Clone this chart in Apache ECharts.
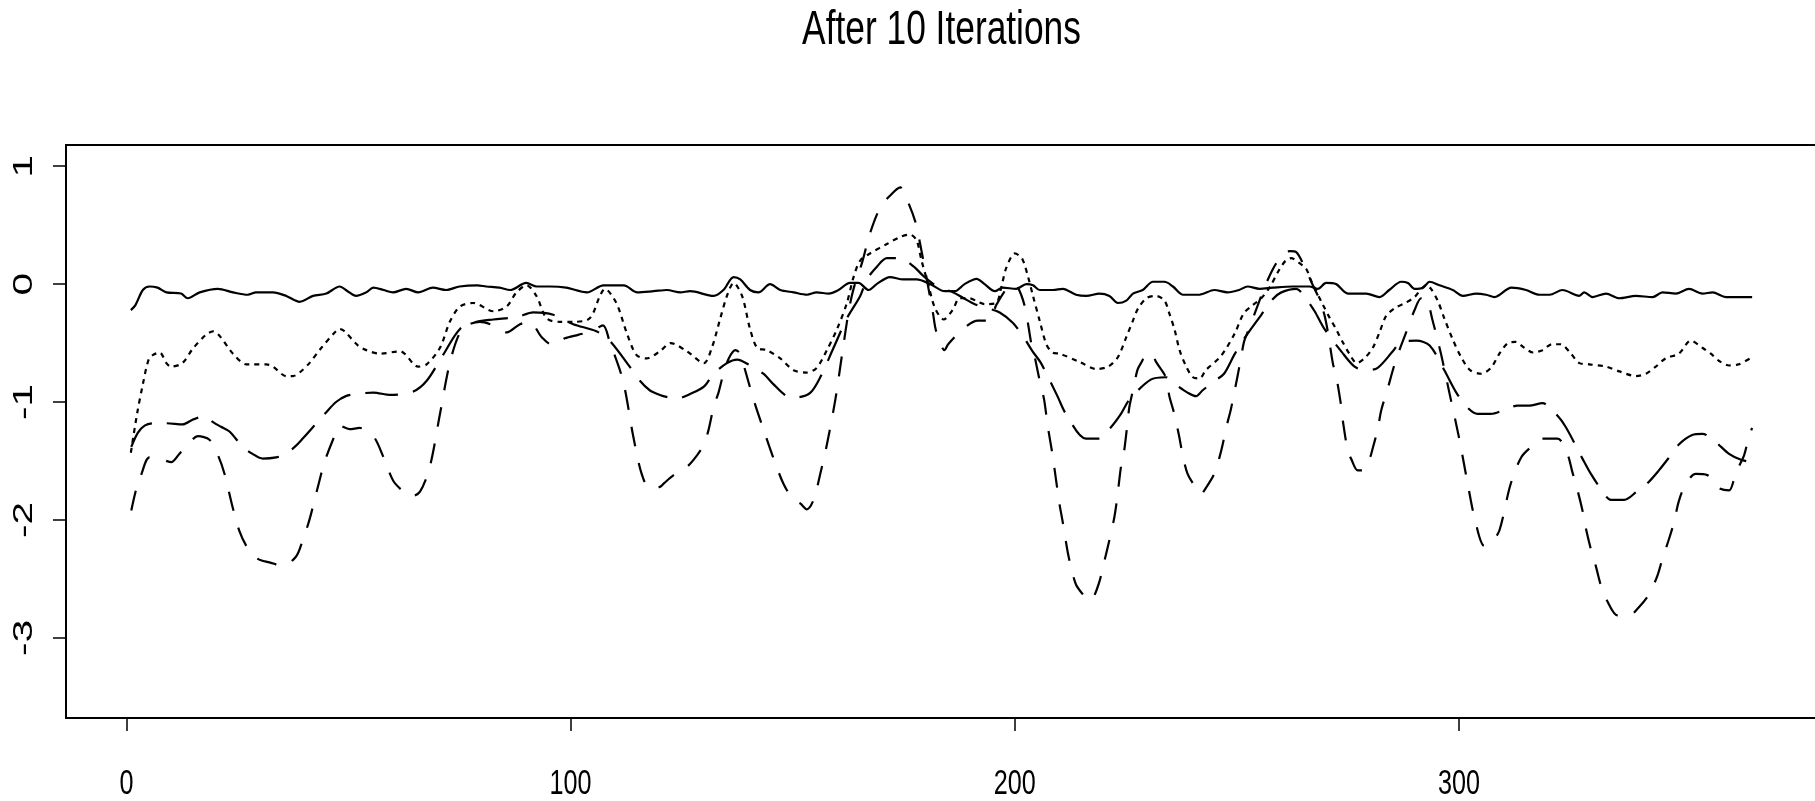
<!DOCTYPE html>
<html>
<head>
<meta charset="utf-8">
<title>After 10 Iterations</title>
<script src="https://cdn.jsdelivr.net/npm/echarts@6/dist/echarts.min.js"></script>
<style>
  html, body { margin: 0; padding: 0; background: #ffffff; }
  #chart { width: 1815px; height: 801px; }
</style>
</head>
<body>
<div id="chart"></div>
<script>
// ---------------- data ----------------
const titleText = 'After 10 Iterations';
const xTicks = [0, 100, 200, 300];
const yTicks = [-3, -2, -1, 0, 1];

// solid line: [day, value]
const solidLine = [[1,-0.22],[2,-0.18],[3.7,-0.05],[5.2,-0.02],[7,-0.03],[9,-0.07],[12.3,-0.08],[13.8,-0.12],[16.5,-0.07],[20.6,-0.04],
[24,-0.07],[27.3,-0.09],[29.2,-0.07],[33,-0.07],[36,-0.10],[39,-0.15],[42,-0.10],[45,-0.08],[48,-0.02],[49.8,-0.06],
[51.7,-0.10],[54,-0.07],[55.6,-0.03],[57.9,-0.05],[60,-0.07],[63,-0.04],[65.7,-0.07],[69,-0.03],[72,-0.05],[75,-0.02],
[79,-0.01],[81,-0.02],[84,-0.03],[86.4,-0.05],[90,0.01],[92.4,-0.02],[95.4,-0.02],[99,-0.03],[103.7,-0.07],[107.4,-0.01],
[112,-0.01],[115,-0.07],[118.7,-0.06],[121.7,-0.05],[124.7,-0.07],[126.9,-0.06],[132.2,-0.10],[134.4,-0.05],[136.7,0.06],[138.2,0.04],
[140.4,-0.05],[142.3,-0.07],[144.9,0.0],[147.2,-0.05],[150.2,-0.07],[153.2,-0.09],[155.4,-0.07],[158.1,-0.08],[160.3,-0.05],[162.9,0.01],
[164.8,0.01],[167.1,-0.05],[168.9,0.0],[171.9,0.06],[174.9,0.04],[177.9,0.04],[181,0.0],[184.2,-0.06],[186.5,-0.06],[188.7,0.0],
[191.4,0.045],[193.2,0.0],[195.5,-0.06],[197.3,-0.03],[200.3,-0.04],[202.6,0.0],[204.1,-0.01],[205.6,-0.05],[208.6,-0.05],[210.8,-0.04],
[213.8,-0.09],[216.1,-0.10],[219.1,-0.08],[221.3,-0.10],[223.2,-0.16],[225.1,-0.14],[226.6,-0.08],[228.8,-0.05],[231.1,0.02],[233.7,0.02],
[235.6,-0.02],[237.9,-0.09],[241.6,-0.09],[244.9,-0.05],[247.9,-0.07],[250.5,-0.05],[252.4,-0.02],[255.1,-0.04],[258.1,-0.03],[262.6,-0.02],
[266.3,-0.02],[268.2,-0.04],[270.1,0.01],[272.3,0.0],[275,-0.08],[279.1,-0.08],[282.1,-0.11],[284.3,-0.05],[287,0.02],[288.5,0.01],
[290,-0.04],[291.9,-0.03],[293.4,0.02],[295.6,-0.01],[298.6,-0.05],[300.9,-0.10],[303.9,-0.08],[306.1,-0.09],[308,-0.11],[311.8,-0.03],
[315.1,-0.05],[318.1,-0.09],[320.4,-0.09],[323.3,-0.05],[327.1,-0.10],[328.2,-0.07],[330.1,-0.11],[333.1,-0.08],[336.1,-0.12],[339.8,-0.10],
[343.6,-0.11],[345.8,-0.07],[348.8,-0.08],[351.8,-0.04],[354.8,-0.08],[357.1,-0.07],[360.1,-0.11],[366,-0.11]];

// dotted line
const dottedLine = [[1,-1.43],[2.4,-1.1],[3.7,-0.85],[5,-0.64],[6,-0.6],[7.5,-0.58],[9,-0.67],[10,-0.70],[12.6,-0.67],[14.9,-0.55],
[17.9,-0.43],[19.5,-0.40],[21,-0.44],[24,-0.59],[27,-0.68],[28.4,-0.68],[31.5,-0.68],[33,-0.70],[36,-0.78],[37.5,-0.78],
[39,-0.75],[41.2,-0.67],[43.9,-0.54],[46.9,-0.41],[48,-0.38],[49.1,-0.40],[52.1,-0.52],[54,-0.56],[57.1,-0.59],[61.6,-0.57],
[65.7,-0.70],[67.6,-0.68],[70.6,-0.54],[72.8,-0.32],[75.1,-0.19],[78.1,-0.16],[82.6,-0.23],[85.6,-0.19],[87.8,-0.07],[90.1,-0.01],
[92.3,-0.10],[94.6,-0.29],[97.6,-0.32],[100.6,-0.32],[104.3,-0.29],[106.6,-0.10],[107.7,-0.04],[110.3,-0.16],[112.6,-0.41],[114.8,-0.60],
[117.1,-0.63],[120.1,-0.57],[122.5,-0.50],[126.2,-0.57],[130,-0.67],[131.8,-0.54],[133.7,-0.29],[135.2,-0.10],[136.7,0.01],[138.6,-0.10],
[140.4,-0.38],[142,-0.54],[144.2,-0.56],[147.2,-0.63],[150.2,-0.73],[153.2,-0.75],[155.4,-0.71],[157.7,-0.56],[160,-0.38],[162.2,-0.16],
[163.7,0.06],[165.2,0.20],[167.4,0.26],[171.2,0.34],[174.2,0.40],[176.4,0.42],[177.9,0.37],[179,0.2],[180.5,0.0],[182,-0.2],
[184,-0.3],[186,-0.22],[187.6,-0.12],[189.8,-0.12],[191.7,-0.15],[193.2,-0.17],[195.8,-0.16],[197,-0.02],[198.1,0.14],[200,0.26],
[201.6,0.22],[203,0.06],[204.1,-0.10],[205.6,-0.31],[207.1,-0.51],[208.5,-0.58],[210.1,-0.59],[214.6,-0.66],[218.3,-0.72],[221,-0.70],
[223.2,-0.62],[225.1,-0.45],[226.6,-0.31],[227.7,-0.21],[229.6,-0.12],[231.8,-0.10],[233.7,-0.14],[234.8,-0.25],[236,-0.39],[237.1,-0.56],
[238.6,-0.70],[240.1,-0.79],[241.6,-0.80],[243,-0.73],[246.4,-0.61],[249.5,-0.42],[251.5,-0.25],[253.5,-0.18],[255.5,-0.12],[257.5,-0.02],
[259.5,0.12],[261,0.2],[262.2,0.22],[264,0.18],[265.6,0.13],[266.7,0.03],[269.3,-0.17],[270.8,-0.28],[272.3,-0.38],[273.8,-0.49],
[275.3,-0.59],[277,-0.67],[278.7,-0.63],[280.6,-0.54],[282.1,-0.41],[283.6,-0.27],[285.7,-0.20],[287.9,-0.16],[290,-0.11],[291.5,-0.04],
[292.6,-0.01],[293.7,-0.04],[295.2,-0.14],[296.7,-0.29],[298.6,-0.47],[300.5,-0.62],[302.5,-0.73],[305,-0.76],[307.2,-0.71],[309.1,-0.59],
[311,-0.50],[312.7,-0.49],[314.7,-0.54],[316.7,-0.58],[318.8,-0.56],[320.9,-0.51],[322.9,-0.51],[325.2,-0.59],[327.1,-0.67],[329.3,-0.68],
[333.1,-0.70],[336.1,-0.74],[339.8,-0.78],[342.1,-0.76],[344.3,-0.70],[346.5,-0.63],[349.5,-0.59],[352.2,-0.48],[354.8,-0.54],[356.7,-0.59],
[358.5,-0.65],[360.8,-0.69],[363,-0.68],[366,-0.62]];

// long-dashed line
const longDashLine = [[1.1,-1.38],[2.6,-1.26],[4.1,-1.20],[6,-1.18],[9,-1.18],[12.7,-1.19],[14.9,-1.15],[17.6,-1.12],[19.5,-1.17],[21.3,-1.21],
[23.2,-1.25],[26.2,-1.38],[28.4,-1.44],[30.7,-1.48],[33.7,-1.47],[35.9,-1.44],[38.2,-1.37],[39.7,-1.31],[42.3,-1.20],[44.9,-1.09],
[47.2,-1.00],[49.4,-0.95],[52.1,-0.93],[55.6,-0.92],[59.4,-0.94],[64.6,-0.91],[67.6,-0.82],[71.3,-0.60],[75.1,-0.38],[78.8,-0.32],
[82.6,-0.30],[87.8,-0.28],[91.6,-0.24],[96.1,-0.26],[100.6,-0.34],[105.8,-0.40],[108.8,-0.48],[113.3,-0.70],[115.6,-0.82],[117.8,-0.90],
[120.1,-0.94],[122,-0.96],[124,-0.97],[127,-0.93],[130,-0.87],[132.2,-0.76],[135.2,-0.67],[137.5,-0.64],[140.4,-0.69],[143.4,-0.76],
[145.7,-0.85],[148.7,-0.95],[150.9,-0.96],[154,-0.92],[156.2,-0.79],[159.2,-0.54],[162.2,-0.29],[165.2,-0.10],[166.7,0.04],[169,0.15],
[171.2,0.22],[174.2,0.22],[177.2,0.15],[179.4,0.07],[181.7,0.0],[183.9,-0.04],[186.2,-0.07],[188.5,-0.12],[191,-0.17],[193.5,-0.20],
[196.6,-0.24],[199.6,-0.33],[202,-0.45],[204,-0.57],[205.9,-0.67],[209.6,-0.95],[211.5,-1.10],[216,-1.31],[219,-1.31],[221.5,-1.22],
[223.9,-1.10],[225.8,-0.98],[230.6,-0.81],[234,-0.79],[236.5,-0.86],[238.9,-0.92],[240.8,-0.95],[242.3,-0.90],[245,-0.82],[247.1,-0.76],
[249.4,-0.60],[251.5,-0.47],[255.5,-0.26],[258,-0.13],[260,-0.07],[263.4,-0.04],[265.5,-0.12],[267.5,-0.23],[269.7,-0.38],[273.5,-0.57],
[276.5,-0.70],[279.1,-0.73],[281.7,-0.71],[285.1,-0.57],[287,-0.49],[290.4,-0.48],[293.4,-0.52],[296.7,-0.73],[299.4,-0.92],[302,-1.05],
[304.2,-1.10],[307.2,-1.10],[310,-1.07],[313.2,-1.03],[315.8,-1.03],[318.8,-1.01],[321.8,-1.10],[324,-1.21],[327.8,-1.48],[329.7,-1.61],
[332,-1.74],[334.2,-1.83],[337.2,-1.83],[340,-1.76],[342.4,-1.69],[345,-1.58],[347.3,-1.47],[349.5,-1.36],[352.5,-1.28],[354.8,-1.27],
[357.8,-1.34],[360.8,-1.44],[363.5,-1.49],[366,-1.51]];

// dashed line
const dashedLine = [[1.1,-1.92],[2.2,-1.74],[3.3,-1.62],[5.2,-1.47],[8.2,-1.49],[10.1,-1.51],[11.9,-1.44],[13.8,-1.36],[16.1,-1.29],[18.7,-1.32],
[20.6,-1.45],[22.1,-1.61],[23.9,-1.89],[25.4,-2.09],[27.3,-2.24],[29.6,-2.33],[32.2,-2.36],[35.2,-2.39],[38.2,-2.31],[39.7,-2.17],
[41.2,-2.00],[43.1,-1.72],[44.6,-1.51],[46.5,-1.32],[48,-1.20],[50.2,-1.23],[52.5,-1.22],[55.6,-1.29],[57.9,-1.47],[60.1,-1.67],
[62.4,-1.76],[64.2,-1.80],[66.1,-1.76],[68.3,-1.55],[70.6,-1.10],[72.8,-0.67],[75.1,-0.41],[77.3,-0.34],[79.6,-0.32],[82.6,-0.35],
[85.6,-0.41],[88.6,-0.34],[90.8,-0.32],[93.5,-0.45],[96.1,-0.52],[98.7,-0.46],[101.7,-0.43],[104.7,-0.40],[107.3,-0.35],[108.8,-0.49],
[111.8,-0.82],[114.1,-1.29],[116,-1.61],[117.8,-1.73],[120.1,-1.72],[121,-1.69],[123.2,-1.62],[126.2,-1.55],[128.5,-1.45],[130,-1.36],
[131.1,-1.23],[132.2,-1.04],[133.3,-0.92],[134.4,-0.76],[135.6,-0.63],[137.1,-0.56],[138.2,-0.59],[139.3,-0.73],[141.2,-0.98],[143.4,-1.23],
[145.7,-1.48],[148,-1.70],[150.2,-1.83],[151.7,-1.86],[153.2,-1.91],[154.7,-1.83],[156.2,-1.61],[157.7,-1.36],[159.6,-0.98],[161.1,-0.60],
[162.6,-0.23],[163.7,-0.04],[165.6,0.18],[167.4,0.43],[169.7,0.65],[171.9,0.75],[174.2,0.82],[175.7,0.72],[177.6,0.53],[178.7,0.34],
[180,0.08],[181.6,-0.25],[182.3,-0.40],[184.2,-0.56],[185,-0.51],[188.7,-0.37],[191.7,-0.31],[194.3,-0.31],[195.8,-0.18],[198.1,-0.04],
[199.5,0.0],[200.7,-0.03],[202.2,-0.18],[203,-0.34],[203.7,-0.50],[204.5,-0.62],[205.5,-0.80],[206.6,-0.98],[207.4,-1.20],[208.5,-1.45],
[210,-1.85],[210.8,-2.02],[211.9,-2.27],[212.6,-2.39],[213.8,-2.55],[215.3,-2.63],[216.5,-2.68],[217.5,-2.67],[219,-2.53],[220.1,-2.36],
[221.3,-2.17],[222.4,-1.98],[223.1,-1.80],[223.9,-1.55],[224.6,-1.42],[225.4,-1.17],[225.8,-1.04],[226.9,-0.85],[227.6,-0.73],[228.4,-0.67],
[229.9,-0.59],[230.8,-0.59],[231.8,-0.66],[234,-0.79],[234.8,-0.95],[235.9,-1.10],[237,-1.29],[237.8,-1.45],[238.9,-1.61],[240.8,-1.73],
[241.9,-1.78],[243,-1.73],[244.9,-1.61],[246,-1.48],[246.8,-1.36],[247.5,-1.23],[248.6,-1.07],[249.4,-0.92],[250.1,-0.79],[250.9,-0.63],
[251.6,-0.49],[252.4,-0.41],[254,-0.25],[256,-0.05],[258,0.12],[260.4,0.26],[262,0.28],[263.4,0.27],[265.2,0.15],[267.1,-0.01],
[268.6,-0.13],[269.7,-0.26],[270.5,-0.41],[271.6,-0.67],[272.4,-0.79],[273.5,-1.04],[273.9,-1.17],[275,-1.42],[275.7,-1.48],[277.2,-1.58],
[278.4,-1.58],[279.9,-1.48],[280.6,-1.39],[281.7,-1.23],[282.5,-1.07],[284,-0.88],[285.1,-0.73],[286.2,-0.60],[288,-0.42],[290,-0.22],
[291.5,-0.12],[292.5,-0.12],[294,-0.30],[296,-0.60],[298,-0.95],[300,-1.30],[302,-1.70],[303.5,-1.98],[305.7,-2.22],[307.5,-2.18],
[309.1,-2.09],[311.6,-1.70],[314,-1.47],[316.6,-1.37],[318.8,-1.31],[322.2,-1.31],[324.4,-1.44],[325.5,-1.59],[326.7,-1.75],[327.8,-1.92],
[328.5,-2.06],[329.7,-2.25],[330.8,-2.39],[331.9,-2.55],[333.4,-2.69],[335.7,-2.81],[338.3,-2.81],[340.5,-2.74],[342.8,-2.63],[344.7,-2.47],
[345.8,-2.33],[347.3,-2.16],[348.4,-2.02],[349.5,-1.84],[351,-1.70],[353.3,-1.61],[355.9,-1.62],[358.5,-1.73],[360.8,-1.75],[361.9,-1.66],
[363,-1.55],[364.2,-1.45],[365.3,-1.29],[366,-1.22]];

// ---------------- chart ----------------
const FONT = "'Liberation Sans', Arial, Helvetica, sans-serif";

function lineSeries(data, dash, width) {
  return {
    type: 'line',
    data: data,
    symbol: 'none',
    smooth: 0.3,
    silent: true,
    clip: true,
    lineStyle: { color: '#000', width: width, type: dash, cap: 'butt', join: 'round' }
  };
}

const chart = echarts.init(document.getElementById('chart'), null, { renderer: 'canvas' });
chart.setOption({
  animation: false,
  backgroundColor: '#ffffff',
  grid: {
    left: 66, top: 145, width: 1751, height: 573,
    show: true, borderColor: '#000', borderWidth: 2,
    containLabel: false, outerBoundsMode: 'none'
  },
  xAxis: {
    type: 'value', min: -13.6, max: 380.6,
    splitLine: { show: false },
    axisLine: { show: true, onZero: false, lineStyle: { color: '#000', width: 2 } },
    axisTick: { show: true, inside: false, length: 13, customValues: xTicks, lineStyle: { color: '#000', width: 1.5 } },
    axisLabel: { show: false, customValues: xTicks }
  },
  yAxis: {
    type: 'value', min: -3.68, max: 1.18,
    splitLine: { show: false },
    axisLine: { show: true, onZero: false, lineStyle: { color: '#000', width: 2 } },
    axisTick: { show: true, inside: false, length: 13, customValues: yTicks, lineStyle: { color: '#000', width: 1.5 } },
    axisLabel: { show: false, customValues: yTicks }
  },
  series: [
    lineSeries(solidLine, 'solid', 2.2),
    lineSeries(dottedLine, [5, 5], 2.2),
    lineSeries(longDashLine, [33, 15], 2.2),
    lineSeries(dashedLine, [20, 17], 2.2)
  ]
});

// Text drawn as real text; the reference's lettering is horizontally condensed
// (and the rotated y labels stretched), so each label is scaled along its reading direction.
function textEl(str, x, y, size, sx, rot) {
  return {
    type: 'text', x: x, y: y, scaleX: sx, scaleY: 1, rotation: rot || 0, silent: true, z: 100,
    style: {
      text: str, fontFamily: FONT, fontSize: size, fontWeight: 'normal', fill: '#000',
      align: 'center', verticalAlign: 'middle', textAlign: 'center', textVerticalAlign: 'middle'
    }
  };
}
const gridRect = { left: 66, width: 1751 };
const elements = [];
elements.push(textEl(titleText, gridRect.left + gridRect.width / 2, 31, 48, 0.736, 0));
xTicks.forEach(v => {
  const px = chart.convertToPixel({ xAxisIndex: 0 }, v);
  elements.push(textEl(String(v), px, 784, 35, 0.72, 0));
});
yTicks.forEach(v => {
  const py = chart.convertToPixel({ yAxisIndex: 0 }, v);
  elements.push(textEl(String(v), 24, py, 28, 1.45, Math.PI / 2));
});
chart.setOption({ graphic: { elements: elements } });
</script>
</body>
</html>
